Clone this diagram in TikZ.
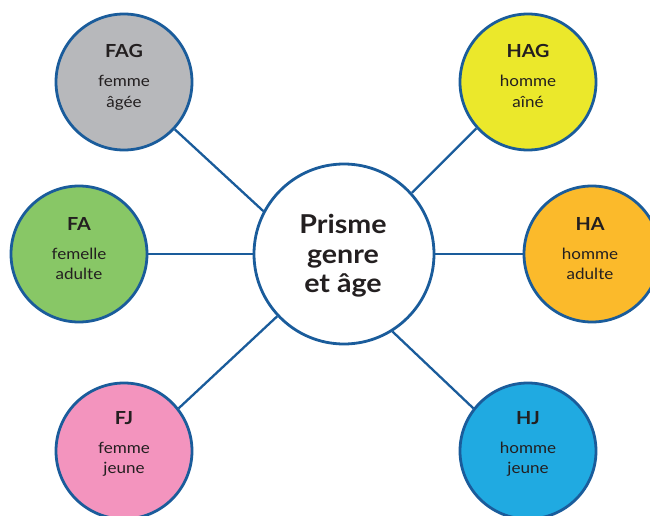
\documentclass[tikz,border=0pt]{standalone}
\usepackage{fontspec}
\setmainfont{Lato}[FakeStretch=1.1]
\definecolor{edgeblue}{HTML}{1A5C9B}
\definecolor{txt}{HTML}{231F20}
\definecolor{cgray}{HTML}{B7B8BB}
\definecolor{cyellow}{HTML}{EBE82B}
\definecolor{cgreen}{HTML}{88C766}
\definecolor{corange}{HTML}{FBBA2B}
\definecolor{cpink}{HTML}{F394BE}
\definecolor{cblue}{HTML}{20AAE1}
\begin{document}
\begin{tikzpicture}[x=1pt,y=-1pt,
  sat/.style={circle,draw=edgeblue,line width=2.8pt,minimum size=136pt,inner sep=0pt},
  hub/.style={circle,draw=edgeblue,line width=2.8pt,fill=white,minimum size=180pt,inner sep=0pt},
  conn/.style={draw=edgeblue,line width=2.3pt},
  abbr/.style={anchor=base,inner sep=0pt,text=txt,font=\fontsize{18}{20}\selectfont\bfseries},
  word/.style={anchor=base,inner sep=0pt,text=txt,font=\fontsize{15.5}{20}\selectfont},
  big/.style={anchor=base,inner sep=0pt,text=txt,font=\fontsize{26}{30}\selectfont\bfseries}]
\useasboundingbox (0,0) rectangle (650,516);
\clip (0,0) rectangle (650,516);
% hub
\node[hub] (ctr) at (344,254) {};
% satellites
\node[sat,fill=cgray]   (FAG) at (124,82)  {};
\node[sat,fill=cyellow] (HAG) at (528,82)  {};
\node[sat,fill=cgreen]  (FA)  at (79,254)  {};
\node[sat,fill=corange] (HA)  at (592,254) {};
\node[sat,fill=cpink]   (FJ)  at (124,451) {};
\node[sat,fill=cblue]   (HJ)  at (528,451) {};
% connectors
\draw[conn] (FAG.-43) -- (ctr.152.6);
\draw[conn] (HAG.222.6) -- (ctr.42.8);
\draw[conn] (FA.east) -- (ctr.west);
\draw[conn] (HA.west) -- (ctr.east);
\draw[conn] (FJ.38) -- (ctr.223);
\draw[conn] (HJ.142.6) -- (ctr.302);
% hub text
\node[big] (t1) at (343,233) {Prisme};
\node[big] (t2) at (343,263) {genre};
\node[big] (t3) at (343,292) {et âge};
% FAG
\node[abbr] (a1) at (124,58) {FAG};
\node[word] (a2) at (124,87) {femme};
\node[word] (a3) at (124,107) {âgée};
% HAG
\node[abbr] (b1) at (528,58) {HAG};
\node[word] (b2) at (528,87) {homme};
\node[word] (b3) at (528,107) {aîné};
% FA
\node[abbr] (c1) at (79,230) {FA};
\node[word] (c2) at (79,259) {femelle};
\node[word] (c3) at (79,279) {adulte};
% HA
\node[abbr] (d1) at (590,230) {HA};
\node[word] (d2) at (590,259) {homme};
\node[word] (d3) at (590,279) {adulte};
% FJ
\node[abbr] (e1) at (124,424) {FJ};
\node[word] (e2) at (124,453) {femme};
\node[word] (e3) at (124,473) {jeune};
% HJ
\node[abbr] (f1) at (528,424) {HJ};
\node[word] (f2) at (528,453) {homme};
\node[word] (f3) at (528,473) {jeune};
\end{tikzpicture}
\end{document}
